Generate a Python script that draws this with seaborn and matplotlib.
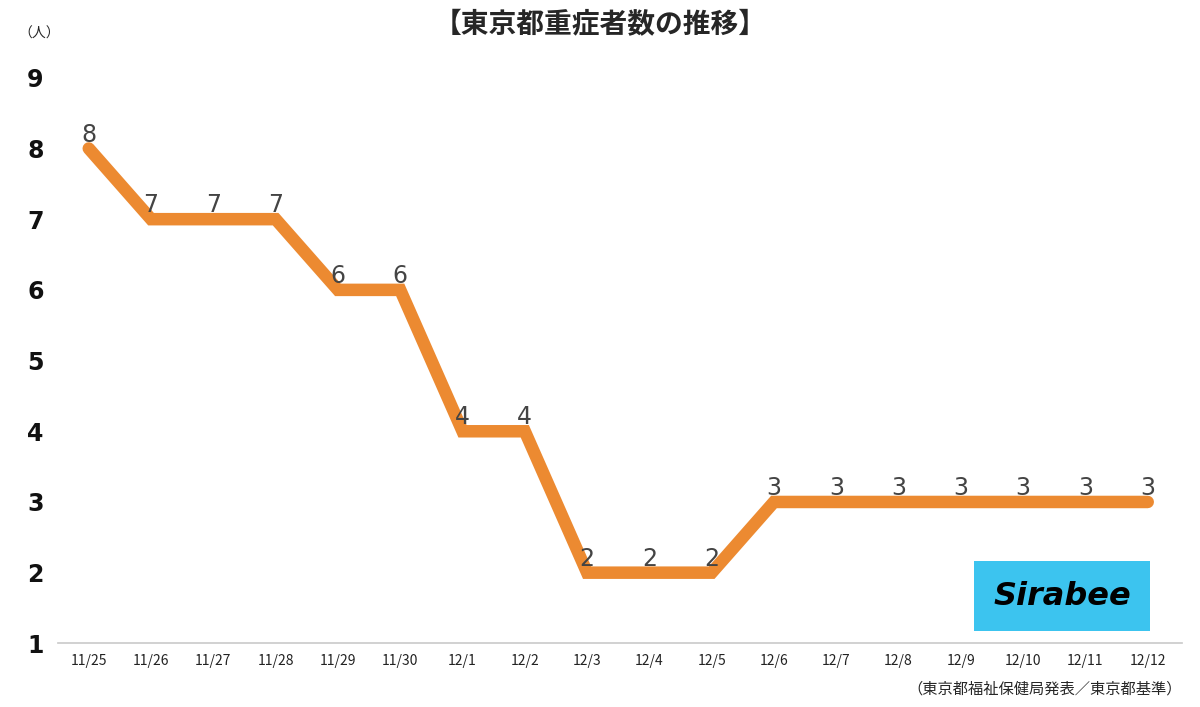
import matplotlib
matplotlib.use("Agg")
import matplotlib.pyplot as plt
import seaborn as sns
import pandas as pd

dates = ["11/25","11/26","11/27","11/28","11/29","11/30","12/1","12/2","12/3","12/4","12/5","12/6","12/7","12/8","12/9","12/10","12/11","12/12"]
values = [8,7,7,7,6,6,4,4,2,2,2,3,3,3,3,3,3,3]
yticks = [1,2,3,4,5,6,7,8,9]

sns.set_theme(style="white")
plt.rcParams['font.family'] = ['Noto Sans CJK JP', 'DejaVu Sans']

fig = plt.figure(figsize=(12, 7.07), dpi=100)
ax = fig.add_axes([0.048, 0.09, 0.937, 0.81])
df = pd.DataFrame({"x": range(len(dates)), "y": values})
sns.lineplot(data=df, x="x", y="y", ax=ax, color="#ec8a31", linewidth=9, solid_joinstyle="miter")

ax.set_xlim(-0.5, len(dates) - 0.45)
ax.set_ylim(1, 9.1)
ax.set_yticks(yticks)
ax.set_yticklabels([str(v) for v in yticks], fontsize=17, fontweight="bold", color="#111111",
                   family=["DejaVu Sans"])
ax.set_xticks(range(len(dates)))
ax.set_xticklabels(dates, fontsize=10, color="#222222")
ax.tick_params(axis="y", length=0, pad=22)
ax.tick_params(axis="x", length=0, pad=8)
for s in ["top", "right", "left"]:
    ax.spines[s].set_visible(False)
ax.spines["bottom"].set_color("#cccccc")
ax.set_xlabel("")
ax.set_ylabel("")
for lab in ax.get_yticklabels():
    lab.set_horizontalalignment("left")

for i, v in enumerate(values):
    ax.annotate(str(v), (i, v), xytext=(0, 10), textcoords="offset points",
                ha="center", va="center", fontsize=17, color="#444444", family=["DejaVu Sans"])

fig.text(0.5, 0.965, "【東京都重症者数の推移】", ha="center", va="center", fontsize=20, fontweight="bold")
fig.text(0.015, 0.952, "（人）", ha="left", va="center", fontsize=10)
fig.text(0.985, 0.025, "（東京都福祉保健局発表／東京都基準）", ha="right", va="center", fontsize=11)

fig.text(0.885, 0.157, "Sirabee", ha="center", va="center", fontsize=23, fontweight="bold",
         fontstyle="italic", color="black", family=["DejaVu Sans"],
         bbox=dict(boxstyle="square,pad=0.6", facecolor="#3cc4ef", edgecolor="none"))

fig.savefig("out.png", dpi=100)
